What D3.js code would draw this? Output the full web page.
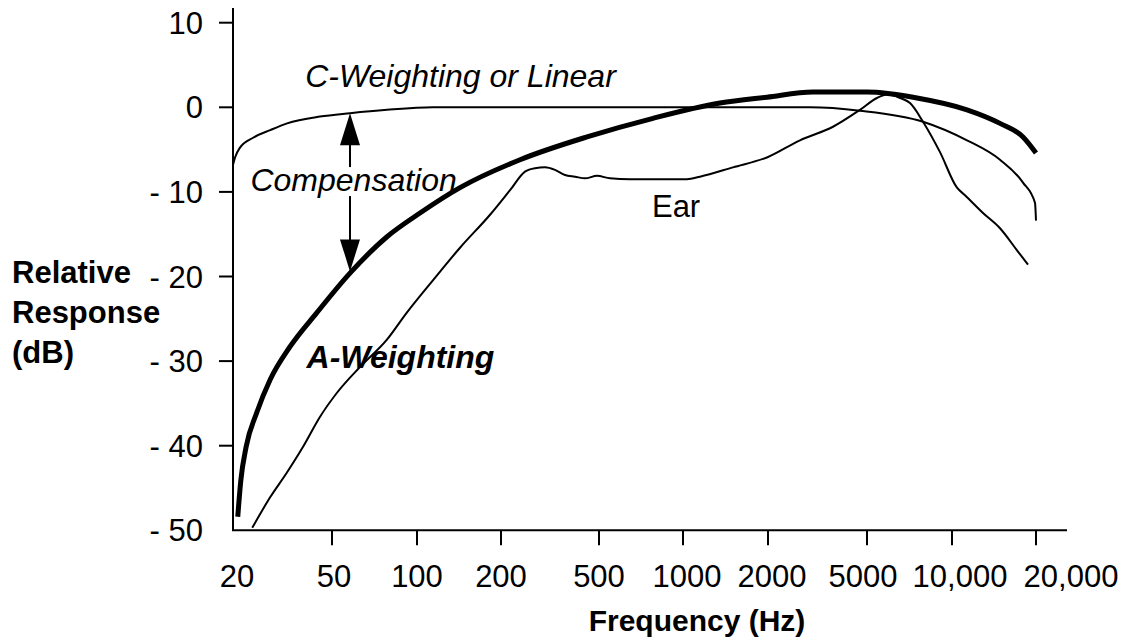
<!DOCTYPE html>
<html>
<head>
<meta charset="utf-8">
<script src="https://cdn.jsdelivr.net/npm/d3@7"></script>
<style>
  html, body { margin: 0; padding: 0; background: #fff; }
  svg { display: block; }
  text { font-family: "Liberation Sans", Arial, Helvetica, sans-serif; fill: #000; }
</style>
</head>
<body>
<svg id="chart" width="1130" height="641"></svg>
<script>
// ---------- data ----------
const xTickValues = [20, 50, 100, 200, 500, 1000, 2000, 5000, 10000, 20000];
const xTickLabels = ["20", "50", "100", "200", "500", "1000", "2000", "5000", "10,000", "20,000"];
const yTickValues = [10, 0, -10, -20, -30, -40, -50];

// C-weighting (linear) response
const cFreq = [20, 20.4, 21.3, 24.1, 28.2, 33, 44.7, 57.9, 78.3, 114, 2950, 4686, 7894, 11318, 14860, 17966, 19835, 20000];
const cDb   = [-6.8, -5.9, -4.8, -3.6, -2.7, -1.9, -1.1, -0.7, -0.3, 0, 0, -0.4, -1.7, -3.9, -6.2, -8.9, -11.3, -13.4];

// A-weighting response
const aFreq = [20.9, 21.5, 22.6, 24.9, 28.2, 33.9, 43.4, 57.9, 78.3, 102.5, 142.6, 239, 447, 781, 1352, 1984, 3033, 5000, 7517, 11318, 14860, 17966, 20000];
const aDb   = [-48.4, -44.1, -40.1, -36.1, -32.2, -28.3, -24.3, -19.6, -15.3, -12.5, -9.5, -6.2, -3.5, -1.3, 0.5, 1.2, 1.8, 1.8, 1.1, -0.3, -1.9, -3.5, -5.4];

// Ear response
const eFreq = [23.9, 28.2, 32.9, 38.3, 44.7, 51.9, 62.8, 78.1, 91.9, 114.4, 142.6, 182.7, 217.6, 250.3, 274.8, 301.8, 331.4, 363.9, 399.5, 438.8, 490.8, 547.5, 645.7, 827, 1033, 1149, 1503, 1992, 2689, 3650, 4686, 5425, 5886, 6544, 7100, 7894, 9068, 10421, 11133, 12915, 14860, 17097, 18723];
const eDb   = [-49.7, -46.1, -43.2, -40.1, -36.6, -33.8, -30.7, -27.5, -24.3, -20.4, -16.6, -12.7, -9.8, -7.6, -7.2, -7.1, -7.4, -8.0, -8.2, -8.4, -8.1, -8.4, -8.5, -8.5, -8.5, -8.2, -7.1, -5.9, -3.9, -2.3, -0.3, 1.1, 1.5, 1.1, 0.5, -1.7, -5.3, -9.5, -10.4, -12.5, -14.3, -16.9, -18.6];

// Compensation arrow (frequency, from C level down to A level)
const arrowFreq = 57.9;
const arrowTopDb = -0.7;
const arrowBottomDb = -19.4;

// ---------- layout ----------
const svg = d3.select("#chart");
const fontSize = 31;
const labelFont = 32;

const x = d3.scaleLog()
  .domain(xTickValues)
  .range([233, 332, 417, 501, 599, 683, 768, 867, 952, 1036]);
const y = d3.scaleLinear().domain([10, -50]).range([22.7, 530.3]);

const axisLeftX = 233, axisRightX = 1067, axisTopY = 8, axisBottomY = y(-50);

// axes lines
svg.append("line").attr("x1", axisLeftX).attr("x2", axisLeftX).attr("y1", axisTopY).attr("y2", axisBottomY)
  .attr("stroke", "#000").attr("stroke-width", 2);
svg.append("line").attr("x1", axisLeftX - 1).attr("x2", axisRightX).attr("y1", axisBottomY).attr("y2", axisBottomY)
  .attr("stroke", "#000").attr("stroke-width", 2);

// y ticks
const yt = svg.append("g");
yt.selectAll("line").data(yTickValues.filter(d => d !== -50)).join("line")
  .attr("x1", axisLeftX - 14).attr("x2", axisLeftX).attr("y1", d => y(d)).attr("y2", d => y(d))
  .attr("stroke", "#000").attr("stroke-width", 2);
yt.selectAll("text").data(yTickValues).join("text")
  .attr("x", 203).attr("y", d => y(d)).attr("dy", "0.36em")
  .attr("text-anchor", "end").attr("font-size", fontSize)
  .text(d => d < 0 ? "- " + Math.abs(d) : String(d));

// x ticks
const xt = svg.append("g");
xt.selectAll("line").data(xTickValues.slice(1)).join("line")
  .attr("x1", d => x(d)).attr("x2", d => x(d)).attr("y1", axisBottomY).attr("y2", axisBottomY + 15)
  .attr("stroke", "#000").attr("stroke-width", 2);
const labelShift = [4, 2, 0, 0, 0, 4, 4, -4, 8, 35];
xt.selectAll("text").data(xTickValues).join("text")
  .attr("x", (d, i) => x(d) + labelShift[i]).attr("y", 587)
  .attr("text-anchor", "middle").attr("font-size", fontSize)
  .text((d, i) => xTickLabels[i]);

// axis titles
svg.append("text").attr("x", 697).attr("y", 631).attr("text-anchor", "middle")
  .attr("font-size", 30).attr("font-weight", "bold").text("Frequency (Hz)");
const yTitle = svg.append("text").attr("font-size", fontSize).attr("font-weight", "bold");
["Relative", "Response", "(dB)"].forEach((s, i) => {
  yTitle.append("tspan").attr("x", 12).attr("y", 283 + i * 40).text(s);
});

// curve data as points
const cPts = cFreq.map((f, i) => [f, cDb[i]]);
const aPts = aFreq.map((f, i) => [f, aDb[i]]);
const ePts = eFreq.map((f, i) => [f, eDb[i]]);
const smooth = d3.line().x(d => x(d[0])).y(d => y(d[1])).curve(d3.curveMonotoneX);

// annotation: compensation text + arrow
const compText = svg.append("text").attr("x", x(23.5)).attr("y", y(-9.9))
  .attr("font-size", labelFont).attr("font-style", "italic").text("Compensation");
const bb = compText.node().getBBox();
const ax = x(arrowFreq), aTop = y(arrowTopDb), aBot = y(arrowBottomDb);
const headL = 32, headW = 10;
svg.append("path").attr("d", `M${ax},${aTop} L${ax - headW},${aTop + headL} L${ax + headW},${aTop + headL} Z`).attr("fill", "#000");
svg.append("path").attr("d", `M${ax},${aBot} L${ax - headW},${aBot - headL} L${ax + headW},${aBot - headL} Z`).attr("fill", "#000");
svg.append("line").attr("x1", ax).attr("x2", ax).attr("y1", aTop + headL - 1).attr("y2", bb.y + 5)
  .attr("stroke", "#000").attr("stroke-width", 2);
svg.append("line").attr("x1", ax).attr("x2", ax).attr("y1", bb.y + bb.height - 2).attr("y2", aBot - headL + 1)
  .attr("stroke", "#000").attr("stroke-width", 2);

svg.append("path").attr("d", smooth(cPts))
  .attr("fill", "none").attr("stroke", "#000").attr("stroke-width", 2);
svg.append("path").attr("d", smooth(ePts))
  .attr("fill", "none").attr("stroke", "#000").attr("stroke-width", 2).attr("stroke-linejoin", "round");
svg.append("path").attr("d", smooth(aPts))
  .attr("fill", "none").attr("stroke", "#000").attr("stroke-width", 5);

// labels
svg.append("text").attr("x", x(39)).attr("y", y(2.4)).attr("font-size", labelFont)
  .attr("font-style", "italic").text("C-Weighting or Linear");
svg.append("text").attr("x", x(774)).attr("y", y(-13)).attr("font-size", fontSize).text("Ear");
svg.append("text").attr("x", x(39.5)).attr("y", y(-30.8)).attr("font-size", labelFont)
  .attr("font-style", "italic").attr("font-weight", "bold").text("A-Weighting");
</script>
</body>
</html>
